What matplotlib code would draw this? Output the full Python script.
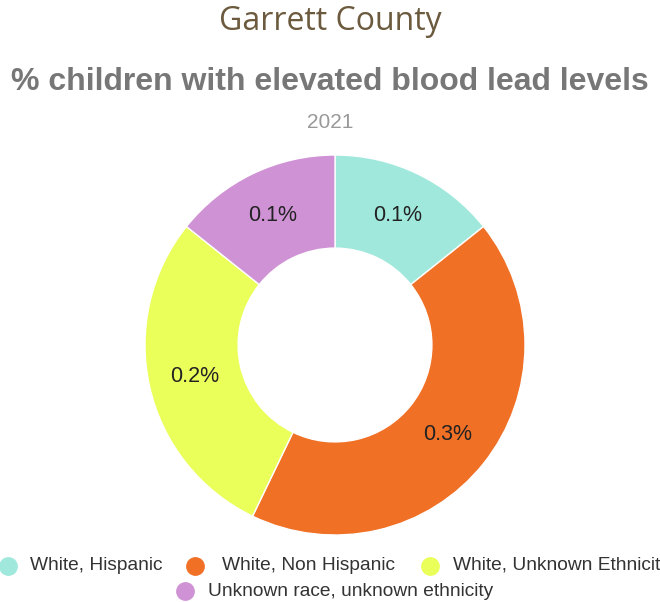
import matplotlib.pyplot as plt
from matplotlib.lines import Line2D

categories = ['White, Hispanic', 'White, Non Hispanic',
              'White, Unknown Ethnicity', 'Unknown race, unknown ethnicity']
values = [0.1, 0.3, 0.2, 0.1]
colors = ['#a0e8dc', '#f07026', '#eaff5a', '#cf92d4']

W, H = 660, 602
fig = plt.figure(figsize=(W / 100, H / 100), dpi=100)

# donut: centre (335, 345) px, outer radius 190 px
cx, cy, r = 335, 345, 190
ax = fig.add_axes([(cx - r) / W, (H - cy - r) / H, 2 * r / W, 2 * r / H])
wedges, texts, autotexts = ax.pie(
    values, colors=colors, startangle=90, counterclock=False,
    radius=1, wedgeprops=dict(width=0.49, edgecolor='white', linewidth=1),
    autopct=lambda p: f'{p * sum(values) / 100:.1f}%', pctdistance=0.755,
    textprops=dict(fontsize=15.5, color='#222222', family='Liberation Sans'))
ax.set_xlim(-1, 1)
ax.set_ylim(-1, 1)
ax.set_aspect('equal')
ax.axis('off')

fig.text(0.5, 1 - 22 / H, 'Garrett County', ha='center', va='center',
         fontsize=23, color='#6b5a3e', family='Open Sans')
fig.text(0.5, 1 - 82 / H, '% children with elevated blood lead levels',
         ha='center', va='center', fontsize=23, fontweight='bold',
         color='#777777', family='Liberation Sans')
fig.text(0.5, 1 - 122 / H, '2021', ha='center', va='center',
         fontsize=15, color='#999999', family='Liberation Sans')

# legend, laid out by hand like the original (runs off the right edge)
legend_pos = [(8, 30, 566), (195, 222, 566), (430, 453, 566), (185, 208, 591)]
for (mx, tx, ly), lab, col in zip(legend_pos, categories, colors):
    fig.add_artist(Line2D([mx / W], [1 - ly / H], marker='o', markersize=12.5,
                          color=col, linestyle='none',
                          transform=fig.transFigure))
    fig.text(tx / W, 1 - ly / H, lab, ha='left', va='center',
             fontsize=13.8, color='#333333', family='Liberation Sans')

fig.savefig('out.png', dpi=100)
